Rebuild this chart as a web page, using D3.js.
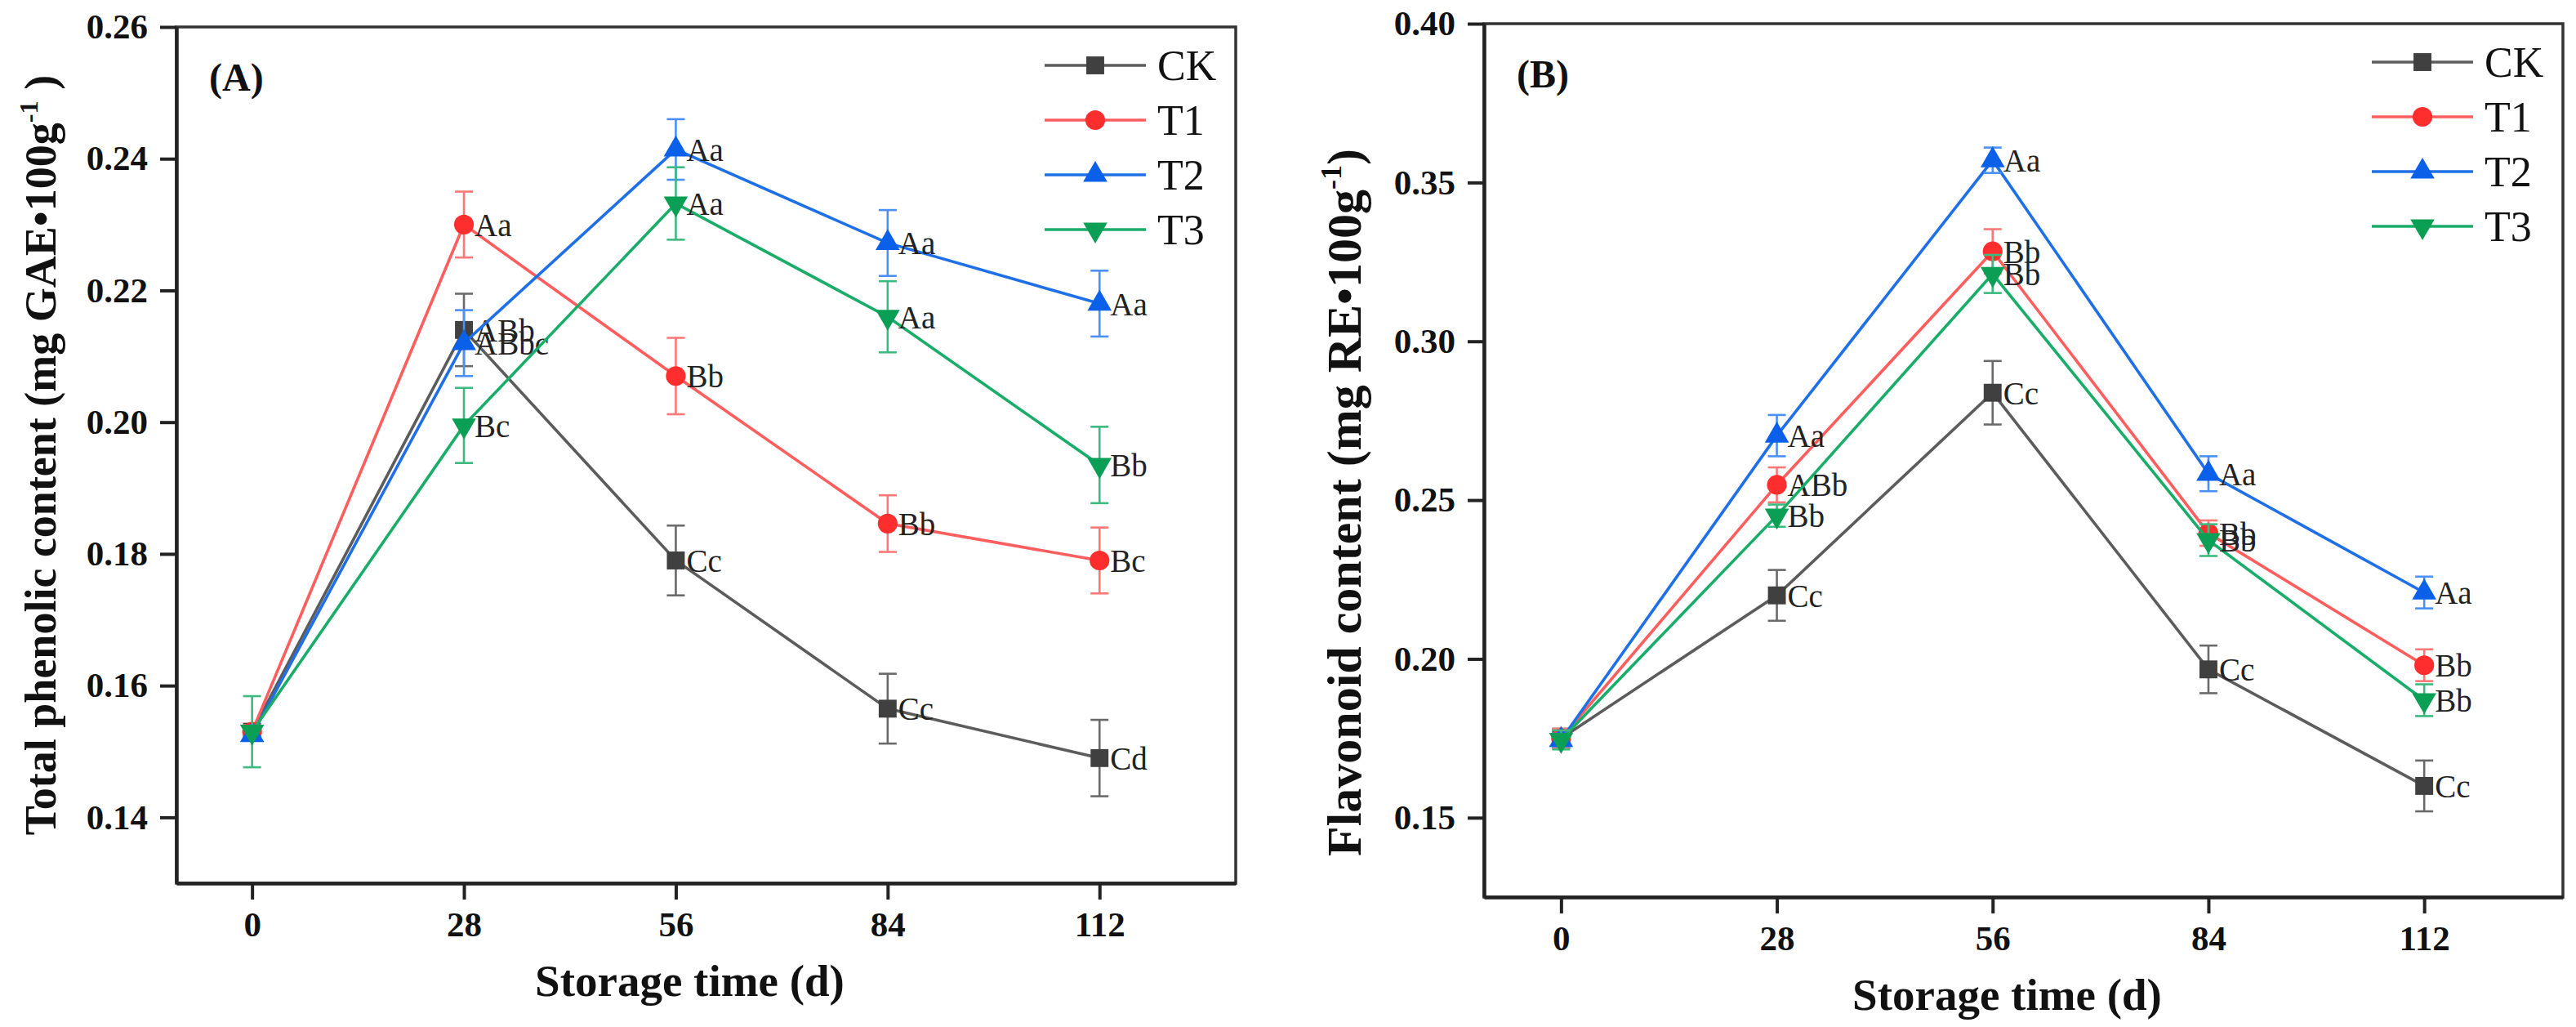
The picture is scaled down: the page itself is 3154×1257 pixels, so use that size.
<!DOCTYPE html>
<html lang="en">
<head>
<meta charset="utf-8">
<title>Phenolic and flavonoid content during storage</title>
<style>
  html, body { margin: 0; padding: 0; background: #fff; }
  svg { display: block; }
  text { font-family: "Liberation Serif", "Times New Roman", Times, serif; }
</style>
</head>
<body>
<div id="chart"></div>
<script src="https://d3js.org/d3.v7.min.js"></script>
<script>
// storage days on the x axis
const days = [0, 28, 56, 84, 112];
const groups = ["CK", "T1", "T2", "T3"];

// (A) total phenolic content, mg GAE per 100 g
const phenolCK = [0.153, 0.214, 0.179, 0.1565, 0.149];
const phenolT1 = [0.153, 0.230, 0.207, 0.1846, 0.179];
const phenolT2 = [0.1525, 0.212, 0.2414, 0.2272, 0.218];
const phenolT3 = [0.153, 0.1995, 0.2332, 0.216, 0.1935];
const phenolErrCK = [0.001, 0.0055, 0.0053, 0.0053, 0.0058];
const phenolErrT1 = [0.001, 0.005, 0.0058, 0.0043, 0.005];
const phenolErrT2 = [0.0008, 0.005, 0.0046, 0.005, 0.005];
const phenolErrT3 = [0.0054, 0.0057, 0.0055, 0.0054, 0.0058];
const phenolTagCK = ["", "ABb", "Cc", "Cc", "Cd"];
const phenolTagT1 = ["", "Aa", "Bb", "Bb", "Bc"];
const phenolTagT2 = ["", "ABbc", "Aa", "Aa", "Aa"];
const phenolTagT3 = ["", "Bc", "Aa", "Aa", "Bb"];
const phenolTicks = [0.14, 0.16, 0.18, 0.20, 0.22, 0.24, 0.26];

// (B) flavonoid content, mg RE per 100 g
const flavCK = [0.175, 0.220, 0.2838, 0.1967, 0.160];
const flavT1 = [0.175, 0.2548, 0.3283, 0.2396, 0.198];
const flavT2 = [0.1745, 0.2703, 0.357, 0.2583, 0.2209];
const flavT3 = [0.1745, 0.2451, 0.3212, 0.2374, 0.187];
const flavErrCK = [0.003, 0.008, 0.010, 0.0075, 0.008];
const flavErrT1 = [0.003, 0.0055, 0.007, 0.004, 0.005];
const flavErrT2 = [0.002, 0.0065, 0.004, 0.0055, 0.005];
const flavErrT3 = [0.003, 0.0035, 0.006, 0.005, 0.005];
const flavTagCK = ["", "Cc", "Cc", "Cc", "Cc"];
const flavTagT1 = ["", "ABb", "Bb", "Bb", "Bb"];
const flavTagT2 = ["", "Aa", "Aa", "Aa", "Aa"];
const flavTagT3 = ["", "Bb", "Bb", "Bb", "Bb"];
const flavTicks = [0.15, 0.20, 0.25, 0.30, 0.35, 0.40];

const width = 3154, height = 1257;

const style = {
  CK: {line: "#5c5c5c", mark: "#404040", err: "#6a6a6a", symbol: d3.symbolSquare, size: 480, rot: 0},
  T1: {line: "#ff5e5e", mark: "#ff2e2e", err: "#ff7878", symbol: d3.symbolCircle, size: 460, rot: 0},
  T2: {line: "#1f70e6", mark: "#0a60e8", err: "#4a90f5", symbol: d3.symbolTriangle, size: 380, rot: 0},
  T3: {line: "#19ad69", mark: "#0b9f56", err: "#3dba80", symbol: d3.symbolTriangle, size: 380, rot: 180}
};

const panels = [
  {
    tag: "(A)",
    box: {left: 216, right: 1513, top: 33, bottom: 1081},
    yDomain: [0.13, 0.26], yTicks: phenolTicks,
    title: {x: 68, y: 557, size: 54, main: "Total phenolic content (mg GAE\u2022100g", sup: "-1", end: " )"},
    means: [phenolCK, phenolT1, phenolT2, phenolT3],
    errs: [phenolErrCK, phenolErrT1, phenolErrT2, phenolErrT3],
    tags: [phenolTagCK, phenolTagT1, phenolTagT2, phenolTagT3]
  },
  {
    tag: "(B)",
    box: {left: 1817, right: 3138, top: 29, bottom: 1098},
    yDomain: [0.125, 0.40], yTicks: flavTicks,
    title: {x: 1666, y: 615, size: 60, main: "Flavonoid content (mg RE\u2022100g", sup: "-1", end: ")"},
    means: [flavCK, flavT1, flavT2, flavT3],
    errs: [flavErrCK, flavErrT1, flavErrT2, flavErrT3],
    tags: [flavTagCK, flavTagT1, flavTagT2, flavTagT3]
  }
];

const svg = d3.select("#chart").append("svg")
    .attr("width", width)
    .attr("height", height)
    .attr("viewBox", [0, 0, width, height]);

panels.forEach(p => {
  const b = p.box;
  const x = d3.scaleLinear().domain([-10, 130]).range([b.left, b.right]);
  const y = d3.scaleLinear().domain(p.yDomain).range([b.bottom, b.top]);
  const g = svg.append("g");

  // frame
  g.append("rect")
      .attr("x", b.left).attr("y", b.top)
      .attr("width", b.right - b.left).attr("height", b.bottom - b.top)
      .attr("fill", "none").attr("stroke", "#333").attr("stroke-width", 3.5);

  // y axis
  g.append("g")
      .attr("transform", `translate(${b.left},0)`)
      .call(d3.axisLeft(y).tickValues(p.yTicks).tickFormat(d3.format(".2f"))
          .tickSize(20).tickSizeOuter(0).tickPadding(15))
      .call(a => a.select(".domain").attr("stroke", "#222").attr("stroke-width", 4.5))
      .call(a => a.selectAll(".tick line").attr("stroke", "#222").attr("stroke-width", 4))
      .call(a => a.selectAll(".tick text")
          .attr("fill", "#111").attr("font-size", 43).attr("font-weight", "bold")
          .attr("font-family", "'Liberation Serif', 'Times New Roman', serif"));

  // x axis
  g.append("g")
      .attr("transform", `translate(0,${b.bottom})`)
      .call(d3.axisBottom(x).tickValues(days).tickFormat(d3.format("d"))
          .tickSize(20).tickSizeOuter(0).tickPadding(14))
      .call(a => a.select(".domain").attr("stroke", "#222").attr("stroke-width", 4.5))
      .call(a => a.selectAll(".tick line").attr("stroke", "#222").attr("stroke-width", 4))
      .call(a => a.selectAll(".tick text")
          .attr("fill", "#111").attr("font-size", 43).attr("font-weight", "bold")
          .attr("font-family", "'Liberation Serif', 'Times New Roman', serif"));

  // axis titles
  g.append("text")
      .attr("x", (b.left + b.right) / 2 - 20)
      .attr("y", b.bottom + 138)
      .attr("text-anchor", "middle")
      .attr("font-size", 55).attr("font-weight", "bold").attr("fill", "#111")
      .text("Storage time (d)");

  const yt = g.append("text")
      .attr("transform", `translate(${p.title.x},${p.title.y}) rotate(-90)`)
      .attr("text-anchor", "middle")
      .attr("font-size", p.title.size).attr("font-weight", "bold").attr("fill", "#111");
  yt.append("tspan").text(p.title.main);
  yt.append("tspan").attr("dy", -p.title.size * 0.4).attr("font-size", p.title.size * 0.6).text(p.title.sup);
  yt.append("tspan").attr("dy", p.title.size * 0.4).text(p.title.end);

  // panel tag
  g.append("text")
      .attr("x", b.left + 40).attr("y", b.top + 78)
      .attr("font-size", 48).attr("font-weight", "bold").attr("fill", "#111")
      .text(p.tag);

  // series
  groups.forEach((name, i) => {
    const s = style[name];
    const pts = days.map((d, j) => ({d, v: p.means[i][j], e: p.errs[i][j], t: p.tags[i][j]}));
    const sg = g.append("g");

    sg.append("path")
        .datum(pts)
        .attr("fill", "none")
        .attr("stroke", s.line)
        .attr("stroke-width", 3.6)
        .attr("d", d3.line().x(q => x(q.d)).y(q => y(q.v)));

    const eb = sg.append("g").attr("stroke", s.err).attr("stroke-width", 2.6);
    pts.forEach(q => {
      const x0 = x(q.d), y1 = y(q.v + q.e), y2 = y(q.v - q.e);
      eb.append("line").attr("x1", x0).attr("x2", x0).attr("y1", y1).attr("y2", y2);
      eb.append("line").attr("x1", x0 - 11).attr("x2", x0 + 11).attr("y1", y1).attr("y2", y1);
      eb.append("line").attr("x1", x0 - 11).attr("x2", x0 + 11).attr("y1", y2).attr("y2", y2);
    });

    sg.selectAll("path.mark")
      .data(pts)
      .join("path")
        .attr("class", "mark")
        .attr("fill", s.mark)
        .attr("transform", q => `translate(${x(q.d)},${y(q.v)}) rotate(${s.rot})`)
        .attr("d", d3.symbol(s.symbol, s.size));

    sg.selectAll("text.tag")
      .data(pts.filter(q => q.t))
      .join("text")
        .attr("class", "tag")
        .attr("x", q => x(q.d) + 13)
        .attr("y", q => y(q.v) + 14)
        .attr("font-size", 39)
        .attr("fill", "#222")
        .text(q => q.t);
  });

  // legend
  const lg = g.append("g");
  groups.forEach((name, i) => {
    const s = style[name];
    const ly = b.top + 47 + i * 67;
    const x1 = b.right - 234, x2 = b.right - 110;
    lg.append("line")
        .attr("x1", x1).attr("x2", x2).attr("y1", ly).attr("y2", ly)
        .attr("stroke", s.line).attr("stroke-width", 3.6);
    lg.append("path")
        .attr("fill", s.mark)
        .attr("transform", `translate(${(x1 + x2) / 2},${ly}) rotate(${s.rot})`)
        .attr("d", d3.symbol(s.symbol, s.size));
    lg.append("text")
        .attr("x", b.right - 96).attr("y", ly + 18)
        .attr("font-size", 52).attr("fill", "#111")
        .text(name);
  });
});
</script>
</body>
</html>
